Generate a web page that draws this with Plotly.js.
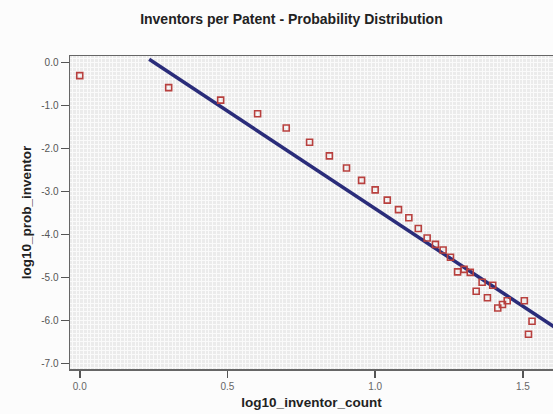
<!DOCTYPE html>
<html>
<head>
<meta charset="utf-8">
<script src="https://cdn.plot.ly/plotly-3.0.1.min.js"></script>
<style>
  html, body { margin: 0; padding: 0; background: #fcfcfc; }
  #chart { width: 553px; height: 414px; }
</style>
</head>
<body>
<div id="chart"></div>
<script>
// log10 of inventor count (x) and log10 of probability (y)
var logInventorCount = [0.000, 0.301, 0.477, 0.602, 0.699, 0.778, 0.845, 0.903, 0.954, 1.000,
                        1.041, 1.079, 1.114, 1.146, 1.176, 1.204, 1.230, 1.255, 1.279, 1.301,
                        1.322, 1.342, 1.362, 1.380, 1.398, 1.415, 1.431, 1.447, 1.505, 1.519, 1.531];
var logProbInventor = [-0.30, -0.58, -0.87, -1.19, -1.52, -1.85, -2.17, -2.45, -2.74, -2.96,
                       -3.20, -3.42, -3.61, -3.86, -4.08, -4.23, -4.36, -4.53, -4.87, -4.81,
                       -4.88, -5.32, -5.11, -5.47, -5.18, -5.71, -5.63, -5.54, -5.54, -6.32, -6.02];

// Fitted regression line
var fitSlope = -4.543;
var fitIntercept = 1.146;
var fitXRange = [0.235, 1.70];
var fitY = fitXRange.map(function (x) { return fitIntercept + fitSlope * x; });

// Tick labels
var xTickVals = [0, 0.5, 1.0, 1.5];
var xTickText = ['0.0', '0.5', '1.0', '1.5'];
var yTickVals = [0, -1, -2, -3, -4, -5, -6, -7];
var yTickText = ['0.0', '-1.0', '-2.0', '-3.0', '-4.0', '-5.0', '-6.0', '-7.0'];

var traces = [
  {
    x: fitXRange, y: fitY, type: 'scatter', mode: 'lines',
    line: { color: '#2a2c7a', width: 3.5 },
    hoverinfo: 'skip', showlegend: false
  },
  {
    x: logInventorCount, y: logProbInventor, type: 'scatter', mode: 'markers',
    marker: { symbol: 'square-open', size: 6, color: '#b8403e', line: { width: 1.6, color: '#b8403e' } },
    showlegend: false
  }
];

var font = 'Arial, "Liberation Sans", sans-serif';

var layout = {
  width: 553, height: 414,
  margin: { l: 70, r: 0, t: 56, b: 45, pad: 0 },
  paper_bgcolor: '#fcfcfc',
  plot_bgcolor: '#ebebeb',
  showlegend: false,
  title: {
    text: '<b>Inventors per Patent - Probability Distribution</b>',
    font: { family: font, size: 14, color: '#222' },
    x: 0.527, xanchor: 'center', xref: 'container',
    y: 0.955, yanchor: 'middle', yref: 'container'
  },
  xaxis: {
    range: [-0.033, 1.602],
    tickvals: xTickVals, ticktext: xTickText,
    ticks: 'outside', ticklen: 7, tickwidth: 1.5, tickcolor: '#555',
    tickfont: { family: font, size: 10, color: '#666' },
    showline: true, linecolor: '#666', linewidth: 1.5, mirror: true,
    showgrid: true, gridcolor: '#fafafa', gridwidth: 1,
    minor: { dtick: 0.0125, showgrid: true, gridcolor: '#fafafa', gridwidth: 1, ticks: '' },
    zeroline: false,
    title: { text: '<b>log10_inventor_count</b>', font: { family: font, size: 13.5, color: '#222' }, standoff: 7 }
  },
  yaxis: {
    range: [-7.13, 0.156],
    tickvals: yTickVals, ticktext: yTickText,
    ticks: 'outside', ticklen: 8, tickwidth: 1.5, tickcolor: '#555',
    tickfont: { family: font, size: 10, color: '#555' },
    showline: true, linecolor: '#666', linewidth: 1.5, mirror: false,
    showgrid: true, gridcolor: '#fafafa', gridwidth: 1,
    minor: { dtick: 0.1, showgrid: true, gridcolor: '#fafafa', gridwidth: 1, ticks: '' },
    zeroline: false,
    title: { text: '<b>log10_prob_inventor</b>', font: { family: font, size: 13.5, color: '#222' }, standoff: 6 }
  }
};

Plotly.newPlot('chart', traces, layout, { displayModeBar: false, staticPlot: true });
</script>
</body>
</html>
